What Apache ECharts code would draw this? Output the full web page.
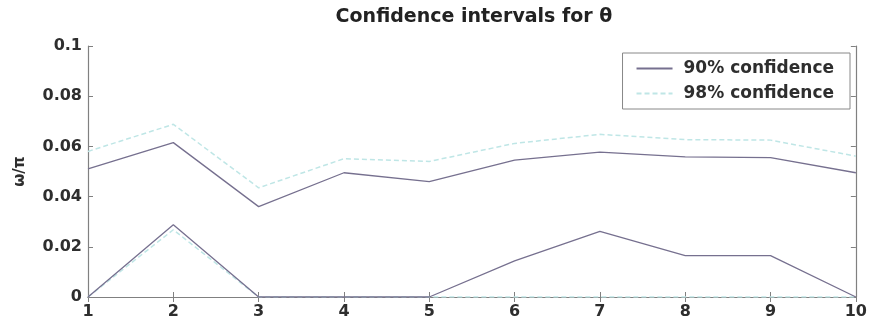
<!DOCTYPE html>
<html>
<head>
<meta charset="utf-8">
<script src="https://cdn.jsdelivr.net/npm/echarts@6/dist/echarts.min.js"></script>
<style>
  html, body { margin: 0; padding: 0; background: #fff; }
  #chart { width: 870px; height: 325px; }
</style>
</head>
<body>
<div id="chart"></div>
<script>
// Confidence bounds for theta, per trial index
const trials = [1, 2, 3, 4, 5, 6, 7, 8, 9, 10];
const ci90Upper = [0.051, 0.0615, 0.036, 0.0495, 0.046, 0.0545, 0.0577, 0.0558, 0.0555, 0.0495];
const ci90Lower = [0, 0.0288, 0, 0, 0, 0.0144, 0.0261, 0.0165, 0.0165, 0];
const ci98Upper = [0.058, 0.0688, 0.0435, 0.0551, 0.054, 0.0612, 0.0648, 0.0627, 0.0625, 0.0561];
const ci98Lower = [0, 0.0268, 0, 0, 0, 0, 0, 0, 0, 0];
const xTicks = [1, 2, 3, 4, 5, 6, 7, 8, 9, 10];
const yTicks = [0, 0.02, 0.04, 0.06, 0.08, 0.1];

const color90 = '#76708f';
const color98 = '#bfe6e6';
const fontFamily = '"DejaVu Sans", Verdana, sans-serif';
const labelFont = { fontFamily: fontFamily, fontWeight: 'bold', fontSize: 16, color: '#2e2e2e' };

const pairs = (ys) => trials.map((t, i) => [t, ys[i]]);

const chart = echarts.init(document.getElementById('chart'), null, { renderer: 'canvas' });

const axisLine = { show: true, lineStyle: { color: '#808080', width: 1.2 } };
const tick = { show: true, inside: true, length: 5, lineStyle: { color: '#808080' } };

chart.setOption({
  animation: false,
  backgroundColor: '#fff',
  title: {
    text: 'Confidence intervals for θ',
    left: 469,
    textAlign: 'center',
    top: 3,
    textStyle: { fontFamily: fontFamily, fontWeight: 'bold', fontSize: 19, color: '#222' }
  },
  grid: { left: 88, right: 13, top: 46, bottom: 28 },
  legend: {
    orient: 'vertical',
    right: 20,
    top: 53,
    padding: [7, 16, 7, 13],
    itemGap: 8,
    itemWidth: 36,
    itemHeight: 12,
    backgroundColor: '#fff',
    borderColor: '#888',
    borderWidth: 1,
    borderRadius: 0,
    itemStyle: { opacity: 0 },
    textStyle: Object.assign({}, labelFont, { fontSize: 17, padding: [0, 0, 0, 6] }),
    data: ['90% confidence', '98% confidence']
  },
  xAxis: [
    {
      type: 'value', min: xTicks[0], max: xTicks[xTicks.length - 1], interval: 1,
      axisLine: axisLine, axisTick: tick, splitLine: { show: false },
      axisLabel: Object.assign({ margin: 7 }, labelFont)
    },
    {
      type: 'value', position: 'top', min: xTicks[0], max: xTicks[xTicks.length - 1], interval: 1,
      axisLine: axisLine, axisTick: tick, splitLine: { show: false }, axisLabel: { show: false }
    }
  ],
  yAxis: [
    {
      type: 'value', min: yTicks[0], max: yTicks[yTicks.length - 1], interval: 0.02,
      name: 'ω/π', nameLocation: 'middle', nameGap: 60, nameRotate: 90,
      nameTextStyle: { fontFamily: fontFamily, fontWeight: 'bold', fontSize: 15, color: '#2e2e2e' },
      axisLine: axisLine, axisTick: tick, splitLine: { show: false },
      axisLabel: Object.assign({ margin: 6, formatter: (v) => String(+v.toFixed(2)) }, labelFont)
    },
    {
      type: 'value', position: 'right', min: yTicks[0], max: yTicks[yTicks.length - 1], interval: 0.02,
      axisLine: axisLine, axisTick: tick, splitLine: { show: false }, axisLabel: { show: false }
    }
  ],
  series: [
    {
      name: '98% confidence', type: 'line', data: pairs(ci98Upper), symbol: 'none',
      lineStyle: { color: color98, width: 1.5, type: [5, 3] }, itemStyle: { color: color98 }
    },
    {
      name: '98% confidence', type: 'line', data: pairs(ci98Lower), symbol: 'none',
      lineStyle: { color: color98, width: 1.5, type: [5, 3] }, itemStyle: { color: color98 }
    },
    {
      name: '90% confidence', type: 'line', data: pairs(ci90Upper), symbol: 'none',
      lineStyle: { color: color90, width: 1.3 }, itemStyle: { color: color90 }
    },
    {
      name: '90% confidence', type: 'line', data: pairs(ci90Lower), symbol: 'none',
      lineStyle: { color: color90, width: 1.3 }, itemStyle: { color: color90 }
    }
  ]
});
</script>
</body>
</html>
